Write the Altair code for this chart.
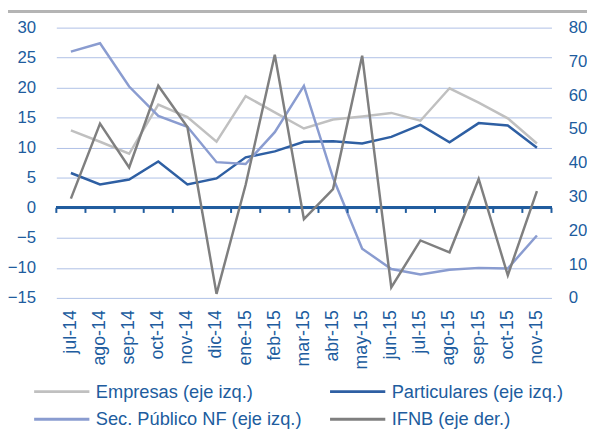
import altair as alt
import pandas as pd

months = ["jul-14", "ago-14", "sep-14", "oct-14", "nov-14", "dic-14", "ene-15", "feb-15",
          "mar-15", "abr-15", "may-15", "jun-15", "jul-15", "ago-15", "sep-15", "oct-15", "nov-15"]
empresas = [12.9, 11.0, 9.0, 17.2, 15.1, 11.0, 18.6, 15.9, 13.2, 14.7, 15.2, 15.8, 14.5, 19.9, 17.5, 14.9, 10.7]
particulares = [5.8, 3.9, 4.7, 7.7, 3.9, 4.9, 8.4, 9.4, 11.0, 11.1, 10.7, 11.8, 13.8, 10.9, 14.1, 13.7, 10.0]
sec_publico = [26.0, 27.4, 20.2, 15.3, 13.5, 7.6, 7.3, 12.6, 20.3, 5.0, -6.8, -10.2, -11.1, -10.3, -10.0, -10.1, -4.6]
ifnb = [29.4, 51.6, 38.6, 62.8, 50.6, 1.2, 33.5, 72.0, 23.3, 32.2, 71.7, 3.1, 17.0, 13.5, 35.2, 6.7, 31.6]

series_names = ["Empresas (eje izq.)", "Particulares (eje izq.)",
                "Sec. Público NF (eje izq.)", "IFNB (eje der.)"]
series_colors = ["#C0C0C0", "#2E5FA3", "#8A9CD0", "#7F7F7F"]

left_rows = []
for name, vals in zip(series_names[:3], [empresas, particulares, sec_publico]):
    for m, v in zip(months, vals):
        left_rows.append({"month": m, "value": v, "series": name})
left_df = pd.DataFrame(left_rows)
right_df = pd.DataFrame({"month": months, "value": ifnb, "series": series_names[3]})
months_df = pd.DataFrame({"month": months})
last_df = pd.DataFrame({"month": months[-1:]})

BLUE = "#205C9E"
FONT = "Liberation Sans"
Y_FS = 17
X_FS = 18

x_axis = alt.Axis(title=None, labelAngle=-90, domain=False, ticks=False, labelPadding=12,
                  labelFontSize=X_FS, labelColor=BLUE, labelFont=FONT, grid=False,
                  labelOverlap=False)
x_scale = alt.Scale(type="band", paddingInner=0, paddingOuter=0)

legend = alt.Legend(orient="none", legendX=-24, legendY=359, columns=2, direction="horizontal",
                    title=None, symbolType="stroke", symbolSize=3136, symbolStrokeWidth=3,
                    labelFontSize=18.5, labelColor=BLUE, labelFont=FONT, labelOffset=5,
                    columnPadding=27, rowPadding=8, clipHeight=20, labelLimit=400)
color = alt.Color("series:N", scale=alt.Scale(domain=series_names, range=series_colors),
                  legend=legend)

left_axis = alt.Axis(title=None, values=list(range(-15, 31, 5)), domain=False, ticks=False,
                     labelPadding=21, labelFontSize=Y_FS, labelColor=BLUE, labelFont=FONT,
                     labelOverlap=False, grid=True, gridColor="#AFC0E6", gridWidth=1)
left_scale = alt.Scale(domain=[-15, 30], nice=False)

zero_rule = alt.Chart(months_df).mark_rule(color=BLUE, strokeWidth=2.5).encode(
    y=alt.YDatum(0, scale=left_scale, axis=left_axis))
ticks = alt.Chart(months_df).mark_rule(color=BLUE, strokeWidth=2).encode(
    x=alt.X("month:N", sort=months, scale=x_scale, axis=x_axis, bandPosition=0),
    y=alt.YDatum(0, scale=left_scale, axis=left_axis), y2=alt.Y2Datum(-0.85))
end_tick = alt.Chart(last_df).mark_rule(color=BLUE, strokeWidth=2).encode(
    x=alt.X("month:N", sort=months, scale=x_scale, axis=x_axis, bandPosition=1),
    y=alt.YDatum(0, scale=left_scale, axis=left_axis), y2=alt.Y2Datum(-0.85))
top_line = alt.Chart(months_df).mark_rule(color="#B5B5B5", strokeWidth=2).encode(
    x=alt.value(-49), x2=alt.value(540), y=alt.value(-16))

left_lines = alt.Chart(left_df).mark_line(strokeWidth=2.5).encode(
    x=alt.X("month:N", sort=months, scale=x_scale, axis=x_axis, bandPosition=0.5),
    y=alt.Y("value:Q", scale=left_scale, axis=left_axis),
    color=color,
)

left = alt.layer(left_lines, zero_rule, ticks, end_tick, top_line)

right = alt.Chart(right_df).mark_line(strokeWidth=2.5).encode(
    x=alt.X("month:N", sort=months, scale=x_scale, axis=x_axis, bandPosition=0.5),
    y=alt.Y("value:Q", scale=alt.Scale(domain=[0, 80], nice=False),
            axis=alt.Axis(title=None, orient="right", values=list(range(0, 81, 10)), domain=False,
                          ticks=False, grid=False, labelPadding=17, labelFontSize=Y_FS,
                          labelColor=BLUE, labelFont=FONT, labelOverlap=False)),
    color=color,
)

chart = alt.layer(left, right).resolve_scale(y="independent").properties(
    width=502, height=274,
    autosize=alt.AutoSizeParams(type="none"),
    padding={"left": 49, "top": 17, "right": 36, "bottom": 130},
).configure_view(stroke=None).configure_axis(labelOverlap=False)

chart.save("out.html", embed_options={"renderer": "svg", "actions": False})
